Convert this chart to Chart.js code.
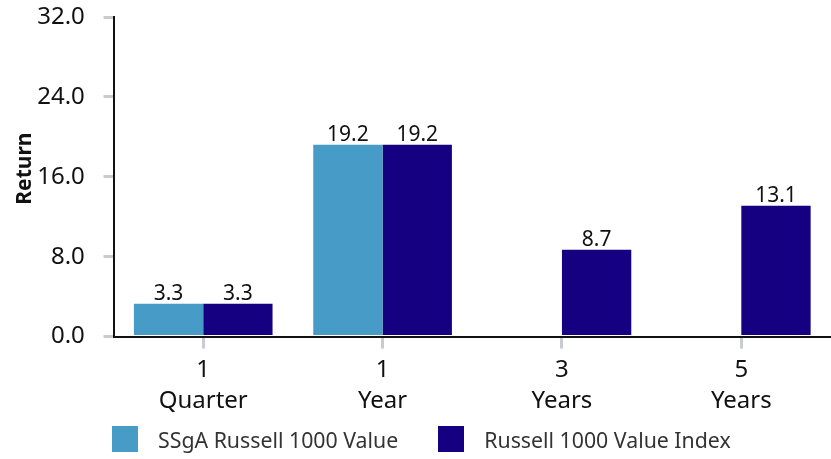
<!DOCTYPE html>
<html>
<head>
<meta charset="utf-8">
<script src="https://cdn.jsdelivr.net/npm/chart.js@4.4.1/dist/chart.umd.min.js"></script>
<style>
  html, body { margin: 0; padding: 0; background: #fff; }
  #wrap { position: relative; width: 831px; height: 459px; }
  #legend { position: absolute; left: 112px; top: 426px; display: flex; font: 21.3px 'Noto Sans', sans-serif; color: #333; }
  #legend .item { display: flex; align-items: center; margin-right: 40px; height: 26px; }
  #legend .box { width: 26px; height: 26px; margin-right: 20px; }
</style>
</head>
<body>
<div id="wrap"><canvas id="returnsChart"></canvas><div id="legend"></div></div>
<script>
// categories and series
const periods = [["1", "Quarter"], ["1", "Year"], ["3", "Years"], ["5", "Years"]];
const fundReturns = [3.3, 19.2, null, null];
const indexReturns = [3.3, 19.2, 8.7, 13.1];
const seriesNames = ["SSgA Russell 1000 Value", "Russell 1000 Value Index"];
const seriesColors = ["#479bc7", "#140080"];
const yTicks = [0, 8, 16, 24, 32];

const fontFamily = "'Noto Sans', sans-serif";

// draws the value over each bar
const barValues = {
  id: "barValues",
  afterDatasetsDraw(chart) {
    const ctx = chart.ctx;
    ctx.save();
    ctx.font = "21px " + fontFamily;
    ctx.fillStyle = "#111";
    ctx.textAlign = "center";
    ctx.textBaseline = "alphabetic";
    chart.data.datasets.forEach((ds, i) => {
      chart.getDatasetMeta(i).data.forEach((bar, j) => {
        if (ds.data[j] == null) return;
        ctx.fillText(ds.data[j].toFixed(1), bar.x, bar.y - 4);
      });
    });
    ctx.restore();
  }
};

// html legend under the plot
const htmlLegend = {
  id: "htmlLegend",
  afterUpdate(chart) {
    const box = document.getElementById("legend");
    box.innerHTML = "";
    chart.data.datasets.forEach(ds => {
      const item = document.createElement("div");
      item.className = "item";
      item.innerHTML = `<span class="box" style="background:${ds.backgroundColor}"></span><span>${ds.label}</span>`;
      box.appendChild(item);
    });
  }
};

new Chart("returnsChart", {
  type: "bar",
  data: {
    labels: periods,
    datasets: [
      { label: seriesNames[0], data: fundReturns, backgroundColor: seriesColors[0] },
      { label: seriesNames[1], data: indexReturns, backgroundColor: seriesColors[1] }
    ]
  },
  options: {
    responsive: true,
    maintainAspectRatio: false,
    animation: false,
    layout: { padding: { top: 17, right: 0, left: 12, bottom: 36 } },
    datasets: { bar: { categoryPercentage: 0.773, barPercentage: 1.0 } },
    plugins: {
      legend: { display: false },
      tooltip: { enabled: false }
    },
    scales: {
      x: {
        grid: { drawOnChartArea: false, offset: false, color: "#c8ccd0", lineWidth: 3, tickLength: 12 },
        border: { color: "#111", width: 2 },
        ticks: { color: "#111", font: { family: fontFamily, size: 24, lineHeight: 1.3 }, padding: 6 }
      },
      y: {
        min: 0, max: 32,
        afterBuildTicks: (axis) => { axis.ticks = yTicks.map(v => ({ value: v })); },
        grid: { drawOnChartArea: false, color: "#c8ccd0", lineWidth: 3, tickLength: 10 },
        border: { color: "#111", width: 2 },
        // trailing spaces keep the gap to the tick marks without padding the top
        ticks: { color: "#111", font: { family: fontFamily, size: 24 }, padding: 0,
                 callback: (v) => v.toFixed(1) + "   " },
        title: { display: true, text: "   Return", color: "#111", padding: 0,
                 font: { family: fontFamily, size: 21, weight: "bold" } }
      }
    }
  },
  plugins: [barValues, htmlLegend]
});
</script>
</body>
</html>
